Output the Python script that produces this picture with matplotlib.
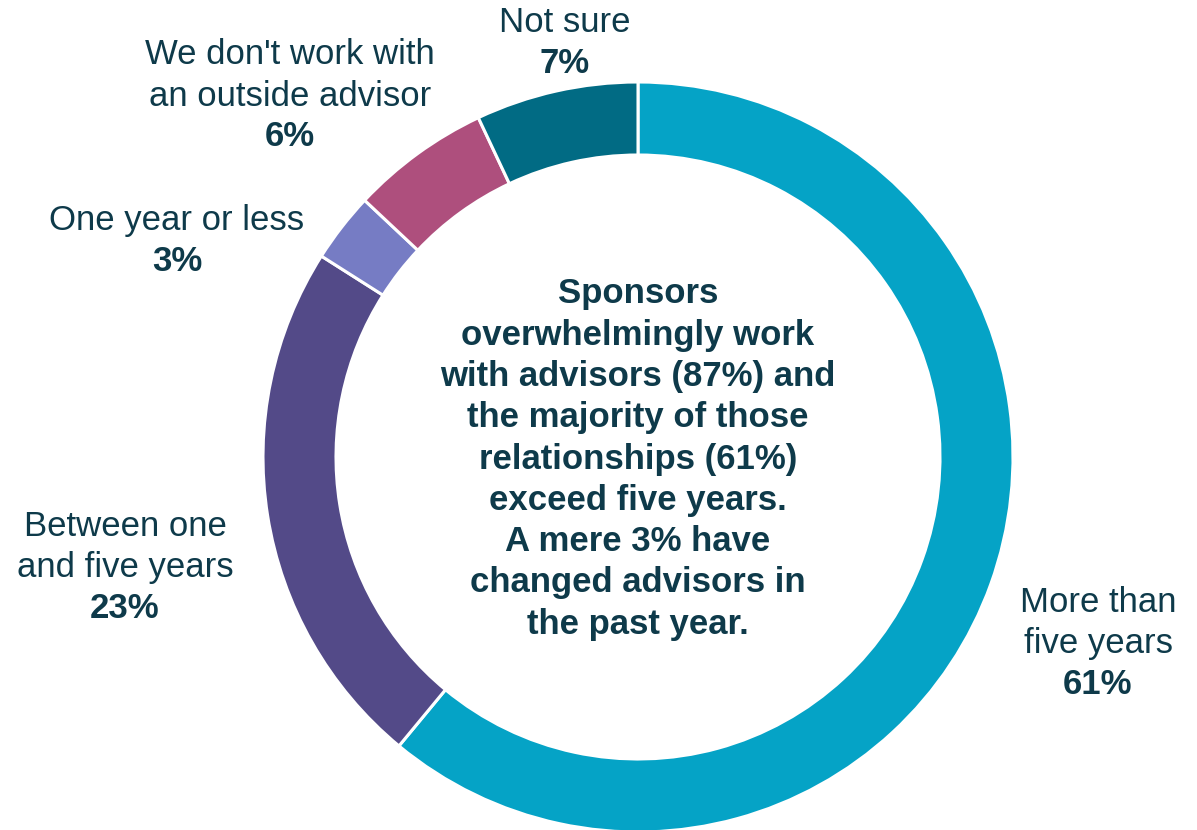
import matplotlib.pyplot as plt

# advisor relationship length, clockwise from 12 o'clock
categories = ["More than\nfive years", "Between one\nand five years", "One year or less",
              "We don't work with\nan outside advisor", "Not sure"]
shares = [61, 23, 3, 6, 7]
colors = ["#05A3C6", "#534A88", "#767CC4", "#AE4F7D", "#016B84"]

# label block centres, in pixels from the top-left corner
label_xy = [(1098, 643), (125, 567), (177, 241), (290, 96), (565, 43)]

center_note = ("Sponsors\noverwhelmingly work\nwith advisors (87%) and\n"
               "the majority of those\nrelationships (61%)\nexceed five years.\n"
               "A mere 3% have\nchanged advisors in\nthe past year.")

W, H = 1197, 830
text_color = "#0E3A4A"
plt.rcParams['font.family'] = ['Liberation Sans', 'DejaVu Sans']

fig = plt.figure(figsize=(W / 100, H / 100), dpi=100)
ax = fig.add_axes([0, 0, 1, 1])

cx, cy, r = 638, H - 457, 375
ax.pie(shares, colors=colors, startangle=90, counterclock=False,
       center=(cx, cy), radius=r,
       wedgeprops=dict(width=73, edgecolor="white", linewidth=2.2))

ax.set_xlim(0, W)
ax.set_ylim(0, H)
ax.set_aspect('equal')
ax.axis('off')

for name, val, (x, y) in zip(categories, shares, label_xy):
    n = name.count("\n") + 1
    top = H - y + (n + 1) * 41 / 2
    for i, line in enumerate(name.split("\n")):
        ax.text(x, top - 41 * (i + 0.5), line, ha='center', va='center',
                fontsize=25, color=text_color)
    ax.text(x, top - 41 * (n + 0.5), f"{val}%", ha='center', va='center',
            fontsize=25, fontweight='bold', color=text_color)

ax.text(cx, H - 459, center_note, ha='center', va='center', fontsize=25,
        fontweight='bold', color=text_color, linespacing=1.32)

fig.savefig("out.png", dpi=100)
